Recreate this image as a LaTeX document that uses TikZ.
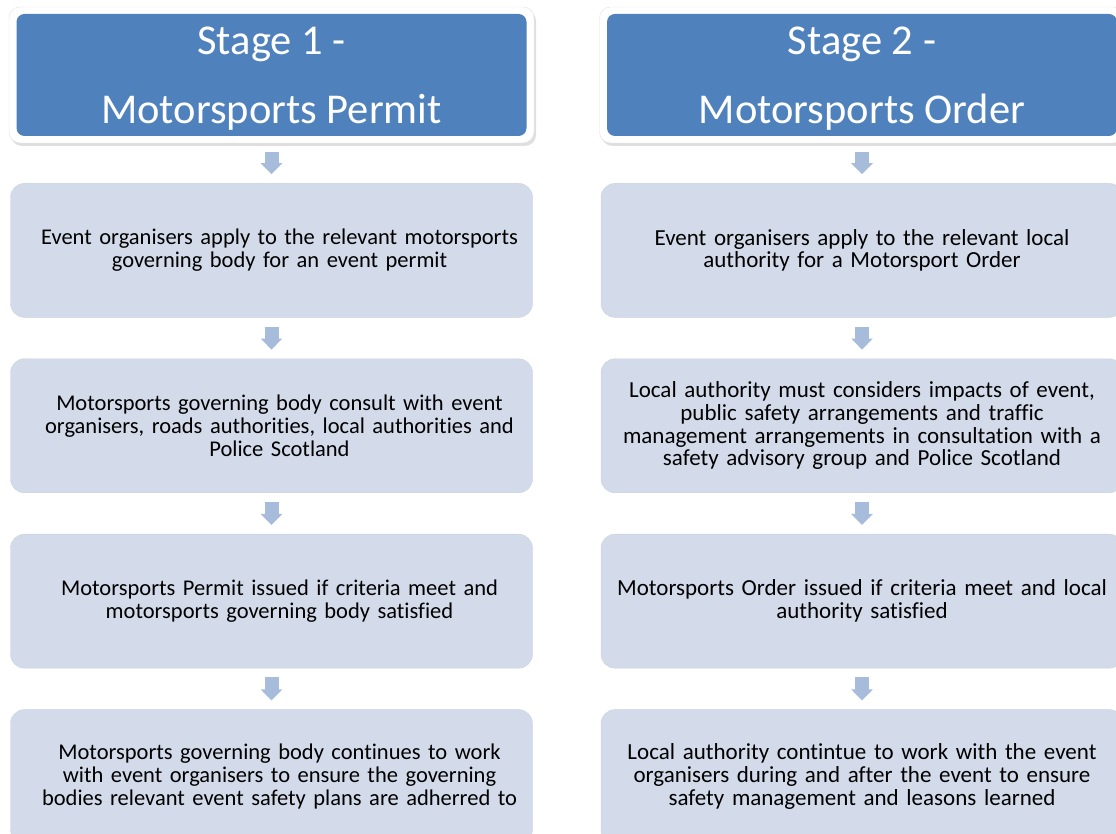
\documentclass[tikz,border=0pt]{standalone}
\usepackage{fontspec}
\setmainfont{Carlito}[Ligatures=NoCommon]
\usetikzlibrary{arrows.meta, shapes, positioning, shadows}
\definecolor{stageblue}{HTML}{4F81BD}
\definecolor{stepfill}{HTML}{D3DBEA}
\definecolor{stepline}{HTML}{C8D1E3}
\definecolor{arrowblue}{HTML}{A7BBDA}

\begin{document}
\begin{tikzpicture}[x=1pt, y=1pt,
    stageouter/.style={draw=black!12, fill=white, rounded corners=11pt, minimum width=525pt, minimum height=136pt,
      drop shadow={opacity=0.25, shadow xshift=2pt, shadow yshift=-3pt}},
    stageinner/.style={fill=stageblue, rounded corners=8pt, minimum width=510pt, minimum height=122pt},
    stagetext/.style={text=white, align=center, font=\fontsize{42.5}{69}\selectfont},
    stepbox/.style={draw=stepline, fill=stepfill, rounded corners=14pt, minimum width=522pt, minimum height=134pt,
      text width=505pt, align=center, font=\fontsize{23}{22.8}\selectfont},
    stepboxl/.style={stepbox, font=\fontsize{22.5}{22.9}\selectfont,
      execute at begin node={\leftskip=16pt plus 1fill\rightskip=0pt plus 1fill\parfillskip=0pt\relax}},
    flow/.style={arrowblue, line width=14pt, -{Triangle[width=21pt, length=11pt]}, shorten <=9pt, shorten >=9pt}]
  \useasboundingbox (0,0) rectangle (1116,834);

      % nodes %
      \node[stageouter] (s1) at (271.5,759) {};
      \node[stageinner] (t1) at (s1) {};
      \node[stagetext] (l1) at ([yshift=-3.5pt]t1.center) {Stage 1 -\\Motorsports Permit};
      \node[stepboxl, below=40pt of s1] (a1) {Event organisers apply to the relevant motorsports\\governing body for an event permit};
      \node[stepboxl, below=41pt of a1] (a2) {Motorsports governing body consult with event\\organisers, roads authorities, local authorities and\\Police Scotland};
      \node[stepboxl, below=41pt of a2] (a3) {Motorsports Permit issued if criteria meet and\\motorsports governing body satisfied};
      \node[stepboxl, below=41pt of a3] (a4) {Motorsports governing body continues to work\\with event organisers to ensure the governing\\bodies relevant event safety plans are adherred to};

      \node[stageouter] (s2) at (862,759) {};
      \node[stageinner] (t2) at (s2) {};
      \node[stagetext] (l2) at ([yshift=-3.5pt]t2.center) {Stage 2 -\\Motorsports Order};
      \node[stepbox, below=40pt of s2] (b1) {Event organisers apply to the relevant local\\authority for a Motorsport Order};
      \node[stepbox, below=41pt of b1] (b2) {Local authority must considers impacts of event,\\public safety arrangements and traffic\\management arrangements in consultation with a\\safety advisory group and Police Scotland};
      \node[stepbox, below=41pt of b2] (b3) {Motorsports Order issued if criteria meet and local\\authority satisfied};
      \node[stepbox, below=41pt of b3] (b4) {Local authority contintue to work with the event\\organisers during and after the event to ensure\\safety management and leasons learned};

      % edges %
      \draw[flow] (s1) -- (a1);
      \draw[flow] (a1) -- (a2);
      \draw[flow] (a2) -- (a3);
      \draw[flow] (a3) -- (a4);
      \draw[flow] (s2) -- (b1);
      \draw[flow] (b1) -- (b2);
      \draw[flow] (b2) -- (b3);
      \draw[flow] (b3) -- (b4);
\end{tikzpicture}
\end{document}
